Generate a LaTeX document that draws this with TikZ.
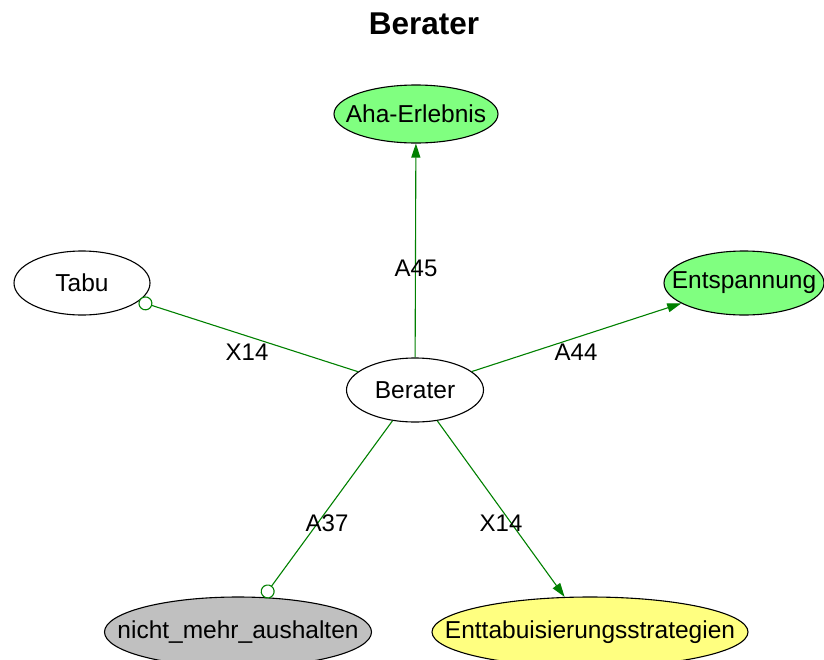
\documentclass[tikz,border=0pt]{standalone}
\usepackage{fontspec}
\setmainfont{Liberation Sans}
\usetikzlibrary{shapes.geometric,arrows.meta}
\definecolor{edgegreen}{HTML}{008000}
\definecolor{fillgreen}{HTML}{80FF80}
\definecolor{fillgray}{HTML}{C0C0C0}
\definecolor{fillyellow}{HTML}{FFFF80}
% text that does not widen its ellipse
\newcommand{\statetext}[1]{\makebox[0pt]{#1}}
\begin{document}
\begin{tikzpicture}[x=1pt, y=-1pt,
    state/.style={ellipse, draw=black, line width=1.1pt, inner sep=0pt,
        minimum height=64pt, font=\fontsize{24.5}{28}\selectfont},
    link/.style={draw=edgegreen, line width=1.1pt},
    linkarrow/.style={link, -{Triangle[length=14pt,width=9pt]}},
    linkcircle/.style={link, -{Circle[open,length=14pt,width=14pt,fill=white]}},
    lbl/.style={inner sep=0pt, font=\fontsize{24}{28}\selectfont}]
    \useasboundingbox (0,0) rectangle (824,659);

    % Title
    \node[font=\bfseries\fontsize{31.5}{36}\selectfont] (title) at (424,24) {Berater};

    % Nodes
    \node[state, fill=fillgreen, minimum width=164pt, minimum height=58pt] (aha) at (416,114) {\statetext{Aha-Erlebnis}};
    \node[state, fill=white, minimum width=136pt] (tabu) at (82,283) {\statetext{Tabu}};
    \node[state, fill=fillgreen, minimum width=160pt] (entsp) at (744,283) {\statetext{Entspannung}};
    \node[state, fill=white, minimum width=137pt] (berater) at (415,390) {\statetext{Berater}};
    \node[state, fill=fillgray, minimum width=267pt, minimum height=70pt] (nicht) at (238,632) {\statetext{nicht\_mehr\_aushalten}};
    \node[state, fill=fillyellow, minimum width=316pt, minimum height=70pt] (enttab) at (590,632) {\statetext{Enttabuisierungsstrategien}};

    % Connectors
    \draw[linkarrow] (berater) -- (aha);
    \draw[linkcircle] (berater) -- (tabu);
    \draw[linkarrow] (berater) -- (entsp);
    \draw[linkcircle] (berater) -- (nicht);
    \draw[linkarrow] (berater) -- (enttab);

    % Labels
    \node[lbl] (lA45) at (416,268) {A45};
    \node[lbl] (lX14a) at (247,352) {X14};
    \node[lbl] (lA44) at (576,352) {A44};
    \node[lbl] (lA37) at (327,523) {A37};
    \node[lbl] (lX14b) at (501,523) {X14};
\end{tikzpicture}
\end{document}
